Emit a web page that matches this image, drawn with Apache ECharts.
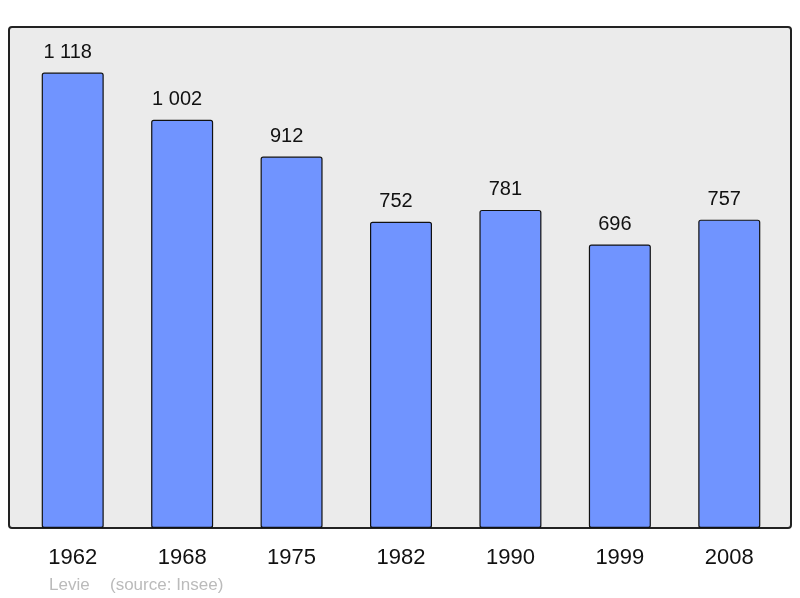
<!DOCTYPE html>
<html>
<head>
<meta charset="utf-8">
<script src="https://cdn.jsdelivr.net/npm/echarts@6/dist/echarts.min.js"></script>
<style>html,body{margin:0;padding:0;background:#fff}#c{width:800px;height:598px}</style>
</head>
<body>
<div id="c"></div>
<script>
const categories = ["1962", "1968", "1975", "1982", "1990", "1999", "2008"];
const population = [1118, 1002, 912, 752, 781, 696, 757];
const footerName = "Levie";
const footerSource = "(source: Insee)";

const chart = echarts.init(document.getElementById('c'), null, {renderer: 'canvas'});
function fmt(v) { return String(v).replace(/\B(?=(\d{3})+(?!\d))/g, ' '); }
chart.setOption({
  animation: false,
  backgroundColor: '#ffffff',
  graphic: [
    {type: 'rect', shape: {x: 9, y: 27, width: 782, height: 501, r: 3}, style: {fill: '#ebebeb', stroke: '#222', lineWidth: 2}, z: -10, silent: true},
    {type: 'text', x: 49, y: 585, style: {text: footerName, fill: '#bbbbbb', verticalAlign: 'middle', font: '17px "Liberation Sans", Arial, sans-serif'}},
    {type: 'text', x: 110, y: 585, style: {text: footerSource, fill: '#bbbbbb', verticalAlign: 'middle', font: '17px "Liberation Sans", Arial, sans-serif'}}
  ],
  grid: {left: 18, right: 16, top: 27, bottom: 70},
  xAxis: {
    type: 'category', data: categories,
    axisLine: {show: false}, axisTick: {show: false},
    axisLabel: {fontSize: 22, color: '#111', margin: 19, fontFamily: '"Liberation Sans", Arial, sans-serif'}
  },
  yAxis: {type: 'value', min: 0, max: 1230, show: false, splitLine: {show: false}},
  series: [{
    type: 'bar', data: population, barWidth: 62,
    itemStyle: {color: '#7094ff', borderColor: '#111', borderWidth: 1.2, borderRadius: 2},
    label: {show: true, position: 'top', distance: 10, offset: [-5, 0], fontSize: 20, color: '#111',
      fontFamily: '"Liberation Sans", Arial, sans-serif', formatter: p => fmt(p.value)}
  }]
});
</script>
</body>
</html>
